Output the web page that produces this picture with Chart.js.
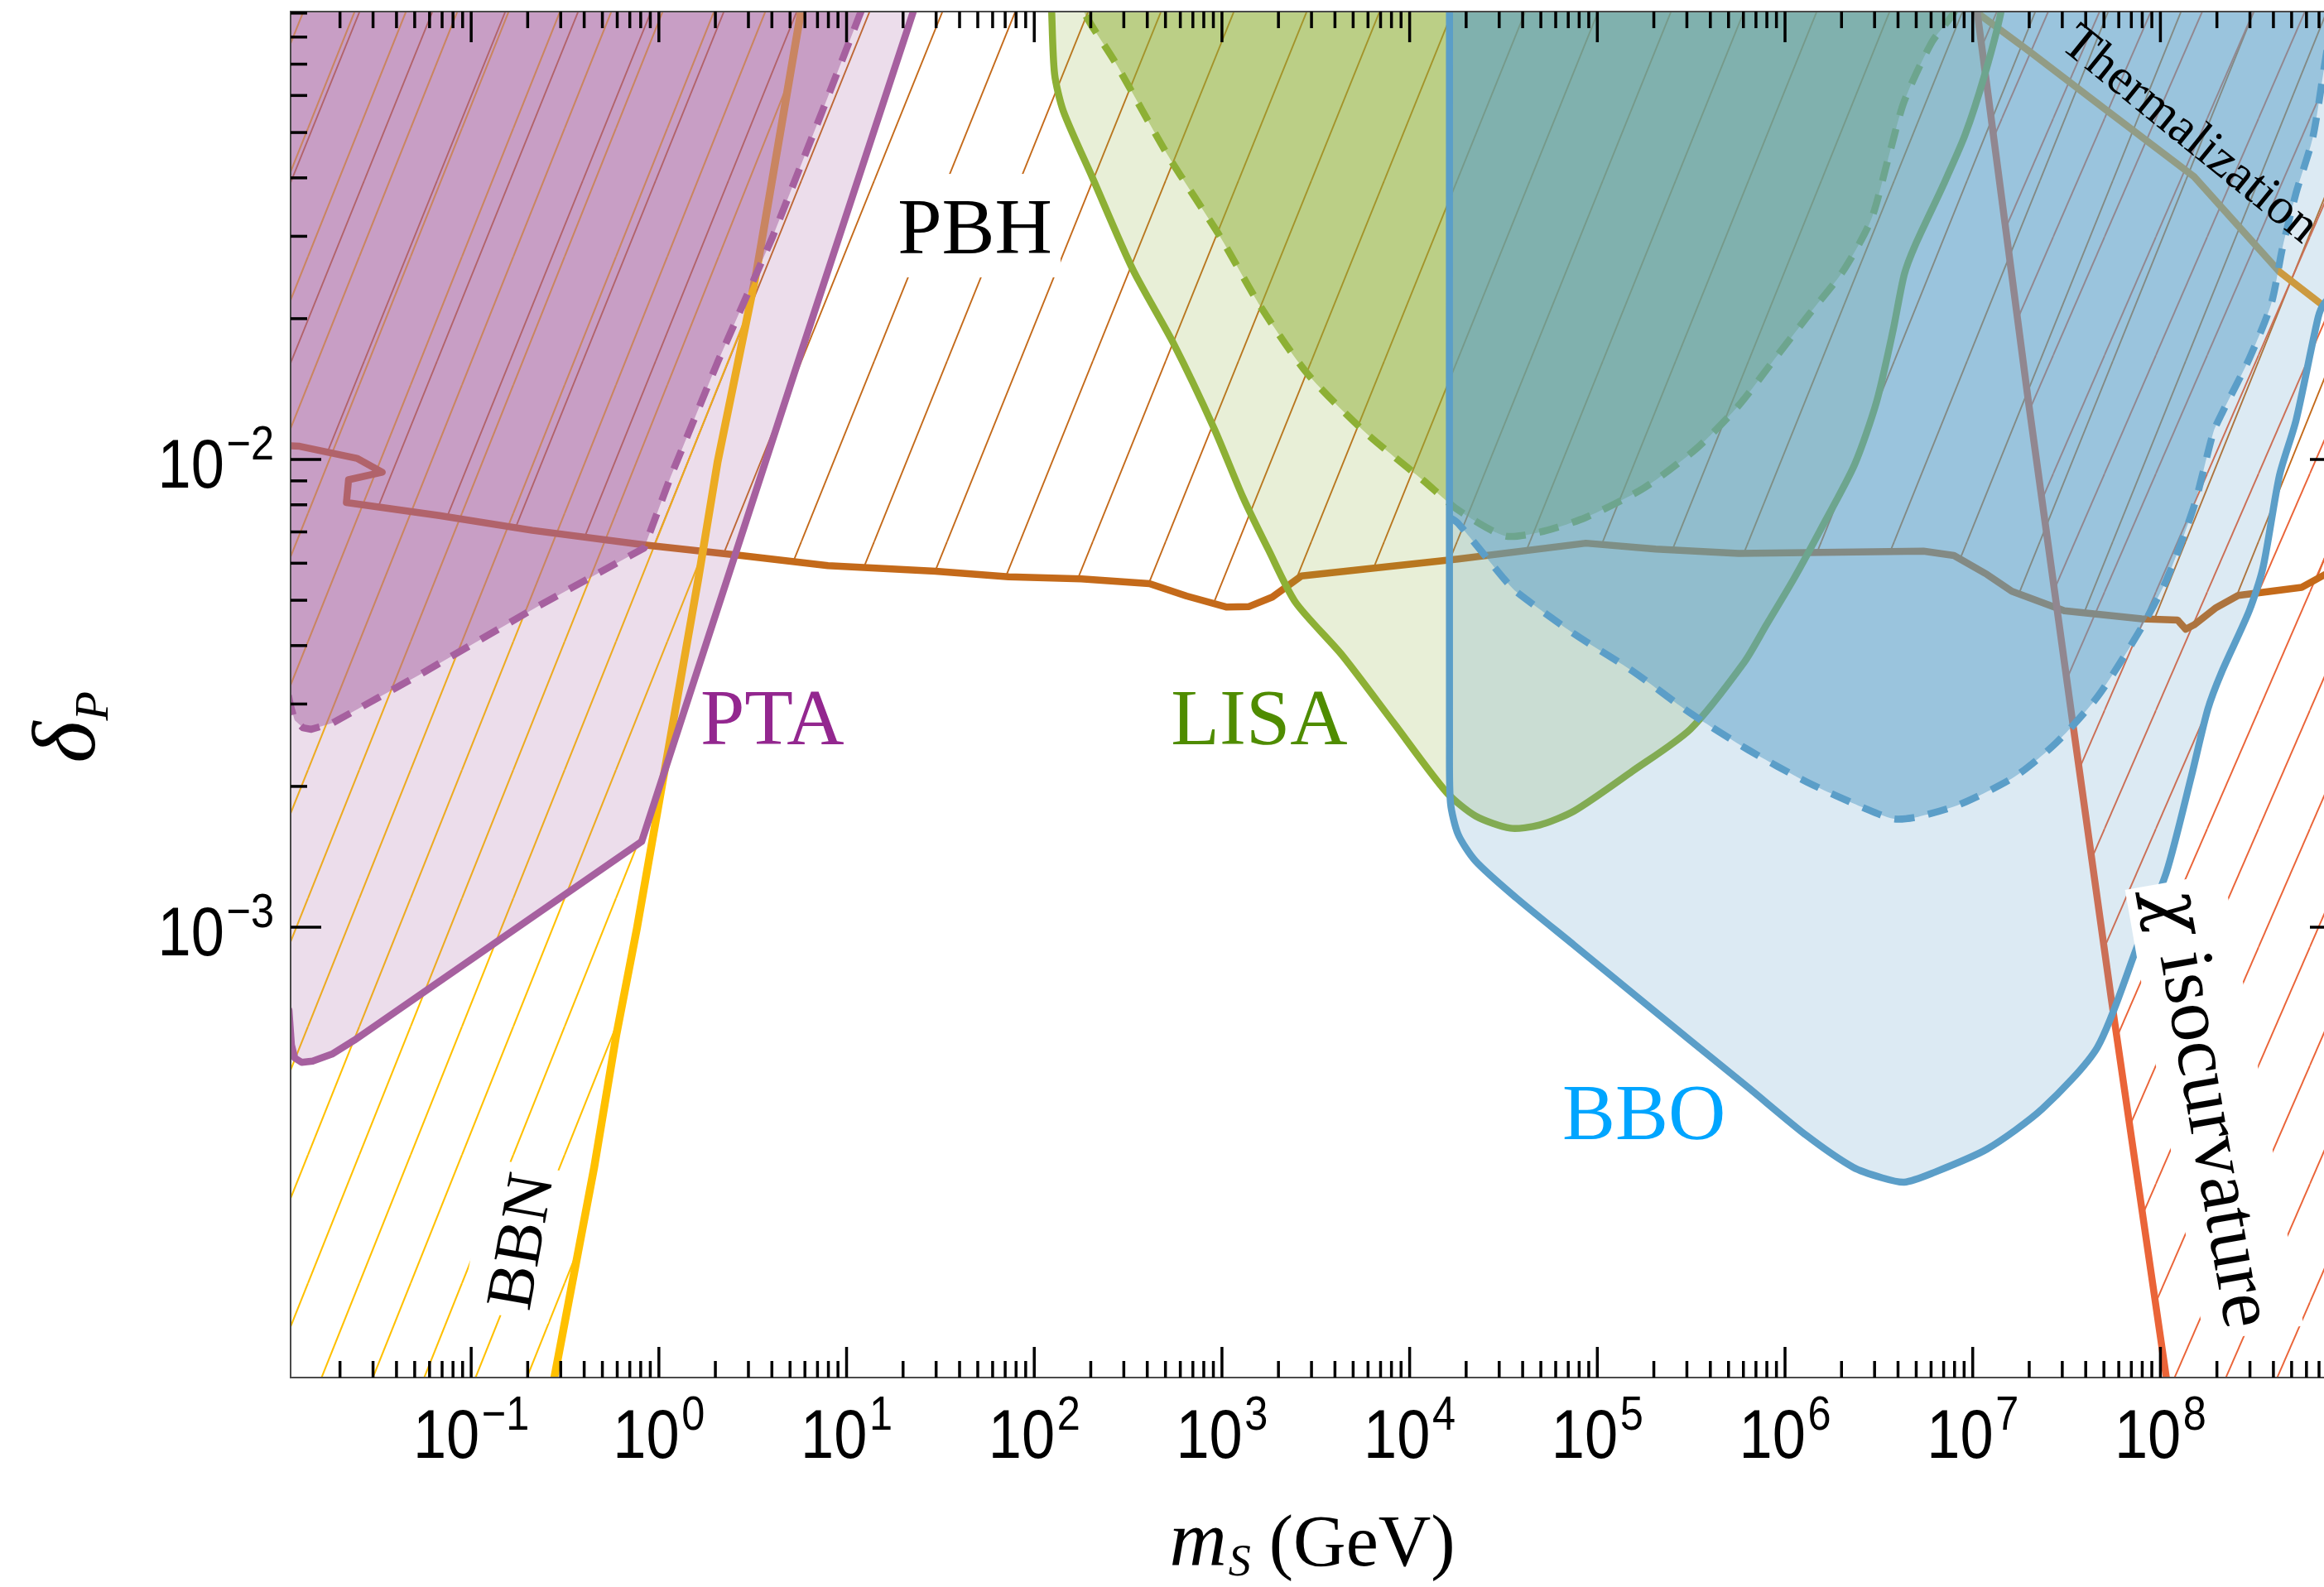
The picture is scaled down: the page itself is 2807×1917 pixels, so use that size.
<!DOCTYPE html>
<html>
<head>
<meta charset="utf-8">
<title>delta_P vs m_S</title>
<script src="https://cdn.jsdelivr.net/npm/chart.js@4.4.1/dist/chart.umd.min.js"></script>
<style>
html,body{margin:0;padding:0;background:#fff;overflow:hidden;}
#wrap{width:2807px;height:1917px;overflow:hidden;position:relative;}
canvas{display:block;}
</style>
</head>
<body>
<div id="wrap"><canvas id="chart" width="2830" height="1917"></canvas></div>
<script>
// ---------------- axis ranges & tick labels ----------------
const X_MIN = 0.010911, X_MAX = 9.116e8;
const Y_MIN = 1.0893e-4, Y_MAX = 0.09068;
const X_LABEL_EXPONENTS = [-1, 0, 1, 2, 3, 4, 5, 6, 7, 8];
const Y_LABEL_EXPONENTS = [-3, -2];

// ---------------- curves: [m_S (GeV), delta_P] ----------------
const pbhCurve = [
  [0.0105,0.0107],[0.01219,0.01067],[0.02459,0.010058],[0.03358,0.009389],[0.02222,0.00905],
  [0.02164,0.008091],[0.06763,0.007586],[0.2116,0.007055],[0.8568,0.006559],[2.739,0.006233],
  [7.958,0.00593],[29.8,0.005769],[73.07,0.005613],[178.1,0.005554],[410.9,0.005426],
  [648.7,0.005105],[1061,0.004835],[1395,0.004848],[1854,0.005079],[2650,0.005636],
  [18130,0.006125],[86940,0.006622],[2.051e5,0.006431],[5.662e5,0.006299],[5.47e6,0.006366],
  [7.94e6,0.006233],[1.192e7,0.005677],[1.617e7,0.005224],[3.075e7,0.004749],[7.94e7,0.004565],
  [1.233e8,0.004537],[1.365e8,0.004336],[1.511e8,0.004429],[1.982e8,0.004822],[2.596e8,0.005121],
  [5.657e8,0.005326],[7.44e8,0.005661],[1.04e9,0.00601]
];
const bbnCurve = [
  [0.2638,9.8e-5],[0.2767,1.0847e-4],[0.4522,3.067e-4],[0.5932,5.886e-4],[0.7631,9.92e-4],
  [1.62,5.538e-3],[2.055,9.879e-3],[3.298,0.02496],[5.674,0.08924],[5.99,0.1]
];
const thermCurve = [
  [8.79e6,0.096],[1.055e7,0.09019],[1.98e7,0.07482],[4.94e7,0.05653],[1.511e8,0.04025],
  [4.312e8,0.02518],[7.44e8,0.02126],[1.15e9,0.0188]
];
const chiCurve = [
  [1.016e7,0.096],[1.058e7,0.09019],[1.98e7,0.01331],[3.403e7,2.754e-3],[5.468e7,7.05e-4],
  [1.077e8,1.085e-4],[1.117e8,9.8e-5]
];
const ptaSolid = [
  [0.009759,8.849e-4],[0.01069,6.653e-4],[0.01102,5.608e-4],[0.01148,5.253e-4],[0.01249,5.14e-4],
  [0.0143,5.173e-4],[0.01813,5.353e-4],[0.02378,5.728e-4],[0.8094,1.524e-3],[5.67,0.01674],
  [22.72,0.09093],[26.27,0.1085]
];
const ptaDashed = [
  [0.00976,3.684e-3],[0.01094,2.956e-3],[0.01147,2.77e-3],[0.0127,2.669e-3],[0.01406,2.649e-3],
  [0.01828,2.733e-3],[0.05536,3.499e-3],[0.2245,4.843e-3],[0.8345,6.466e-3],[1.155,9.183e-3],
  [2.055,0.01614],[4.042,0.02996],[7.434,0.05562],[11.55,0.08766],[14.2,0.1085]
];
const lisaSolid = [
  [122.9,0.1042],[123.8,0.09093],[128.3,0.06674],[142.7,0.05562],[203.8,0.04009],[335.6,0.02543],
  [552.6,0.01768],[909.9,0.01163],[1290,0.008325],[1768,0.006414],[2467,0.004948],[4362,0.003818],
  [8279,0.002723],[15730,0.001942],[22470,0.001728],[34420,0.001628],[49150,0.001653],[75400,0.001773],
  [1.538e5,0.002156],[3.135e5,0.002652],[6.061e5,0.003684],[7.94e5,0.004423],[1.115e6,0.005561],
  [1.564e6,0.007137],[2.347e6,0.00975],[3.078e6,0.01331],[3.772e6,0.01896],[4.317e6,0.02485],
  [4.942e6,0.02873],[6.937e6,0.03846],[9.09e6,0.04934],[1.153e7,0.06605],[1.412e7,0.09019],[1.46e7,0.1042]
];
const lisaDashed = [
  [171,0.1042],[183,0.09093],[270.8,0.07047],[514.6,0.04471],[977,0.02996],[1608,0.02121],
  [2844,0.01528],[5802,0.01143],[11830,0.009017],[18130,0.007798],[32060,0.006866],[49150,0.006988],
  [86940,0.007518],[1.774e5,0.008694],[3.407e5,0.01059],[5.662e5,0.01304],[8.79e5,0.01639],
  [1.366e6,0.0206],[2.051e6,0.02537],[2.876e6,0.03257],[3.524e6,0.04356],[4.317e6,0.05831],
  [6.055e6,0.07799],[7.94e6,0.09019],[9.25e6,0.1042]
];
const BBO_EDGE_X = 16300;
const bboSolid = [
  [BBO_EDGE_X,0.1042],[BBO_EDGE_X,0.002451],[16510,0.001843],[18130,0.001579],[22450,0.001385],
  [37000,0.001155],[75400,9.144e-4],[1.537e5,7.233e-4],[3.136e5,5.72e-4],[6.397e5,4.535e-4],
  [1.303e6,3.585e-4],[2.305e6,3.067e-4],[3.292e6,2.912e-4],[4.317e6,2.85e-4],[6.037e6,2.975e-4],
  [1.192e7,3.354e-4],[2.348e7,4.088e-4],[4.617e7,5.537e-4],[7.648e7,9.255e-4],[1.077e8,1.311e-3],
  [1.461e8,2.099e-3],[1.789e8,2.925e-3],[2.118e8,3.508e-3],[2.974e8,4.749e-3],[3.52e8,5.871e-3],
  [4.312e8,9.256e-3],[5.284e8,0.01214],[6.931e8,0.02015],[7.44e8,0.02152],[1.04e9,0.025]
];
const bboDashed = [
  [16350,0.007518],[18130,0.0073],[32060,0.005538],[37000,0.005214],[75400,0.004235],
  [1.538e5,0.00353],[3.135e5,0.002867],[6.397e5,0.002392],[1.303e6,0.002045],[2.659e6,0.001796],
  [3.798e6,0.001705],[5.116e6,0.001722],[8.5e6,0.001829],[1.672e7,0.002097],[2.778e7,0.002476],
  [4.617e7,0.003108],[7.671e7,0.004272],[1.077e8,0.005524],[1.511e8,0.007948],[1.914e8,0.01143],
  [2.118e8,0.01251],[2.974e8,0.01643],[3.897e8,0.02154],[4.465e8,0.02827],[5.284e8,0.03715],
  [6.475e8,0.04867],[7.44e8,0.06846],[8.07e8,0.0849],[8.49e8,0.104]
];

// ---------------- text annotations (anchored in data coordinates) ----------------
const annotations = [
  {parts:[['PBH',false]], x:48.3, y:0.02758, rot:0, size:96, color:'#000', box:true, base:'alphabetic'},
  {parts:[['PTA',false]], x:4.018, y:2.464e-3, rot:0, size:96, color:'#93278f', box:false, base:'alphabetic'},
  {parts:[['LISA',false]], x:1581, y:2.465e-3, rot:0, size:96, color:'#4f8c00', box:false, base:'alphabetic'},
  {parts:[['BBO',false]], x:1.774e5, y:3.523e-4, rot:0, size:96, color:'#00a5ff', box:false, base:'alphabetic'},
  {parts:[['BBN',false]], x:0.1908, y:2.125e-4, rot:-80, size:80, color:'#000', box:true, base:'middle'},
  {parts:[['Thermalization',false]], x:1.284e8, y:0.04686, rot:39, size:62, color:'#000', box:false, base:'alphabetic'},
  {parts:[['\u03C7',true],[' isocurvature',false]], x:1.786e8, y:4.088e-4, rot:80, size:93, color:'#000', box:true, base:'middle'}
];

// ---------------- helpers ----------------
const X_LO = X_MIN / 3, X_HI = X_MAX * 3, Y_LO = Y_MIN / 3, Y_HI = Y_MAX * 3;
function toPts(arr) { return arr.map(([x, y]) => ({x, y})); }
function hatch(color, p, slope, lw) {
  const h = Math.round(p * slope);
  const c = document.createElement('canvas');
  c.width = p; c.height = h;
  const g = c.getContext('2d');
  g.strokeStyle = color; g.lineWidth = lw;
  for (const dx of [-p, 0, p]) { g.beginPath(); g.moveTo(dx, h); g.lineTo(dx + p, 0); g.stroke(); }
  return g.createPattern(c, 'repeat');
}
const datasets = [];
function addFill(pts, bg, tension) {
  datasets.push({data: toPts(pts), fill: 'shape', backgroundColor: bg, borderColor: 'rgba(0,0,0,0)',
    borderWidth: 0, pointRadius: 0, tension: tension || 0, clip: 0});
}
function addLine(pts, color, width, dash, tension) {
  datasets.push({data: toPts(pts), fill: false, borderColor: color, borderWidth: width,
    borderDash: dash || [], borderJoinStyle: 'round', borderCapStyle: dash ? 'butt' : 'round',
    pointRadius: 0, tension: tension || 0, clip: 0});
}

const C_PBH = '#c46a1a', C_BBN = '#ffc000', C_THERM = '#eb9a1d', C_CHI = '#ea6438';
const C_PTA = [166,96,159], C_LISA = [141,176,53], C_BBO = [91,158,200];
const rgba = (c, a) => `rgba(${c[0]},${c[1]},${c[2]},${a})`;
const LW = 8.5, DASH = [24, 17], SMOOTH = 0.25;

// constraint regions (hatched) and their boundaries
addFill([...pbhCurve, [X_HI, Y_HI], [X_LO, Y_HI]], hatch(C_PBH, 88, 2.48, 1.9));
addFill([...bbnCurve, [X_LO, Y_HI], [X_LO, Y_LO]], hatch(C_BBN, 62, 2.5, 2.1));
addFill([...chiCurve, [X_HI, Y_LO], [X_HI, Y_HI]], hatch(C_CHI, 62, 2.3, 1.9));
addLine(pbhCurve, C_PBH, LW);
addLine(bbnCurve, C_BBN, 9.5);
addLine(thermCurve, C_THERM, LW);
addLine(chiCurve, C_CHI, LW);
// PTA
addFill([...ptaSolid, [X_LO, Y_HI]], rgba(C_PTA, 0.21));
addFill([...ptaDashed, [X_LO, Y_HI]], rgba(C_PTA, 0.5));
addLine(ptaSolid, rgba(C_PTA, 1), LW);
addLine(ptaDashed, rgba(C_PTA, 1), LW, DASH);
// LISA
addFill(lisaSolid, rgba(C_LISA, 0.2), SMOOTH);
addFill(lisaDashed, rgba(C_LISA, 0.5), SMOOTH);
addLine(lisaSolid, rgba(C_LISA, 1), LW, null, SMOOTH);
addLine(lisaDashed, rgba(C_LISA, 1), LW, DASH, SMOOTH);
// BBO
addFill([...bboSolid, [X_HI, Y_HI]], rgba(C_BBO, 0.21), SMOOTH);
addFill([[BBO_EDGE_X, Y_HI], [BBO_EDGE_X, 0.0076], ...bboDashed, [X_HI, Y_HI]], rgba(C_BBO, 0.51), SMOOTH);
addLine(bboSolid, rgba(C_BBO, 1), LW, null, SMOOTH);
addLine(bboDashed, rgba(C_BBO, 1), LW, DASH, SMOOTH);

// later datasets on top
datasets.forEach((d, i) => { d.order = datasets.length - i; });

const SANS = '"Liberation Sans", Arial, sans-serif';
const SERIF = '"Liberation Serif", "Times New Roman", serif';
const GREEK = '"DejaVu Serif", "Liberation Serif", serif';

function drawPow(ctx, e, ax, base, align) {
  const SQ = 0.87;
  const big = `83px ${SANS}`, small = `58px ${SANS}`;
  const s = e < 0 ? '\u2212' + (-e) : String(e);
  ctx.save();
  ctx.font = big; const w1 = ctx.measureText('10').width;
  ctx.font = small; const w2 = ctx.measureText(s).width;
  const tot = (w1 + 3 + w2) * SQ;
  const x0 = align === 'center' ? ax - tot / 2 : ax - tot;
  ctx.translate(x0, base); ctx.scale(SQ, 1);
  ctx.textAlign = 'left'; ctx.textBaseline = 'alphabetic'; ctx.fillStyle = '#000';
  ctx.font = big; ctx.fillText('10', 0, 0);
  ctx.font = small; ctx.fillText(s, w1 + 3, -34);
  ctx.restore();
}

function drawAnnotation(ctx, xs, ys, L) {
  const px = xs.getPixelForValue(L.x), py = ys.getPixelForValue(L.y);
  const fN = `${L.size}px ${SERIF}`, fI = `italic ${Math.round(L.size * 0.94)}px ${GREEK}`;
  ctx.save();
  ctx.translate(px, py);
  ctx.rotate(L.rot * Math.PI / 180);
  ctx.textBaseline = L.base; ctx.textAlign = 'left';
  const widths = L.parts.map(([t, it]) => { ctx.font = it ? fI : fN; return ctx.measureText(t).width; });
  const total = widths.reduce((a, b) => a + b, 0);
  if (L.box) {
    ctx.font = fN;
    const m = ctx.measureText('Hg');
    const asc = m.fontBoundingBoxAscent || L.size * 0.9, desc = m.fontBoundingBoxDescent || L.size * 0.22;
    ctx.fillStyle = '#fff';
    ctx.fillRect(-total / 2 - 10, -asc - 10, total + 20, asc + desc + 18);
  }
  ctx.fillStyle = L.color;
  let cx = -total / 2;
  L.parts.forEach(([t, it], i) => { ctx.font = it ? fI : fN; ctx.fillText(t, cx, 0); cx += widths[i]; });
  ctx.restore();
}

const decor = {
  id: 'decor',
  afterDatasetsDraw(chart) {
    const {ctx, scales: {x, y}} = chart;
    annotations.forEach(L => drawAnnotation(ctx, x, y, L));
  },
  afterDraw(chart) {
    const {ctx, chartArea: a, scales: {x, y}} = chart;
    ctx.save();
    // frame
    ctx.strokeStyle = '#4a4a4a'; ctx.lineWidth = 2;
    ctx.strokeRect(a.left, a.top, a.right - a.left, a.bottom - a.top);
    // ticks
    ctx.strokeStyle = '#000'; ctx.lineWidth = 3.5; ctx.lineCap = 'butt';
    const seg = (x1, y1, x2, y2) => { ctx.beginPath(); ctx.moveTo(x1, y1); ctx.lineTo(x2, y2); ctx.stroke(); };
    for (let k = -3; k <= 9; k++) for (let m = 1; m <= 9; m++) {
      const v = m * Math.pow(10, k);
      const L = m === 1 ? 37 : 20;
      if (v >= X_MIN && v <= X_MAX) {
        const px = x.getPixelForValue(v);
        seg(px, a.bottom, px, a.bottom - L); seg(px, a.top, px, a.top + L);
      }
      if (v >= Y_MIN && v <= Y_MAX) {
        const py = y.getPixelForValue(v);
        seg(a.left, py, a.left + L, py); seg(a.right, py, a.right - L, py);
      }
    }
    // tick labels
    X_LABEL_EXPONENTS.forEach(e => drawPow(ctx, e, x.getPixelForValue(Math.pow(10, e)), a.bottom + 97, 'center'));
    Y_LABEL_EXPONENTS.forEach(e => drawPow(ctx, e, a.left - 20, y.getPixelForValue(Math.pow(10, e)) + 34, 'right'));
    // x title: m_S (GeV)
    ctx.fillStyle = '#000'; ctx.textBaseline = 'alphabetic'; ctx.textAlign = 'left';
    const fm = `italic 96px ${SERIF}`, fs = `italic 54px ${SERIF}`, fg = `88px ${SERIF}`;
    ctx.font = fm; const wm = ctx.measureText('m').width;
    ctx.font = fs; const ws = ctx.measureText('S').width;
    ctx.font = fg; const wg = ctx.measureText('(GeV)').width;
    const gap = 22;
    const tw = wm + 2 + ws + gap + wg;
    const cx0 = (a.left + a.right) / 2 - 4 - tw / 2;
    const tb = a.bottom + 227;
    ctx.font = fm; ctx.fillText('m', cx0, tb);
    ctx.font = fs; ctx.fillText('S', cx0 + wm + 2, tb + 12);
    ctx.font = fg; ctx.fillText('(GeV)', cx0 + wm + 2 + ws + gap, tb);
    // y title: delta_P
    const fd = `italic 108px ${SERIF}`, fp = `italic 58px ${SERIF}`;
    ctx.save();
    ctx.translate(114, (a.top + a.bottom) / 2 + 40);
    ctx.rotate(-Math.PI / 2);
    ctx.font = fd; const wd = ctx.measureText('\u03B4').width;
    ctx.font = fp; const wp = ctx.measureText('P').width;
    const st = -(wd + wp) / 2;
    ctx.font = fd; ctx.fillText('\u03B4', st, 0);
    ctx.font = fp; ctx.fillText('P', st + wd + 1, 16);
    ctx.restore();
    ctx.restore();
  }
};

new Chart(document.getElementById('chart'), {
  type: 'line',
  data: {datasets},
  options: {
    responsive: false,
    animation: false,
    devicePixelRatio: 1,
    layout: {padding: {left: 351, top: 14, right: 3, bottom: 253}},
    scales: {
      x: {type: 'logarithmic', min: X_MIN, max: X_MAX, bounds: 'data', display: false},
      y: {type: 'logarithmic', min: Y_MIN, max: Y_MAX, bounds: 'data', display: false}
    },
    plugins: {legend: {display: false}, tooltip: {enabled: false}, filler: {propagate: false}},
    elements: {point: {radius: 0}, line: {tension: 0, capBezierPoints: false}}
  },
  plugins: [decor]
});
</script>
</body>
</html>
